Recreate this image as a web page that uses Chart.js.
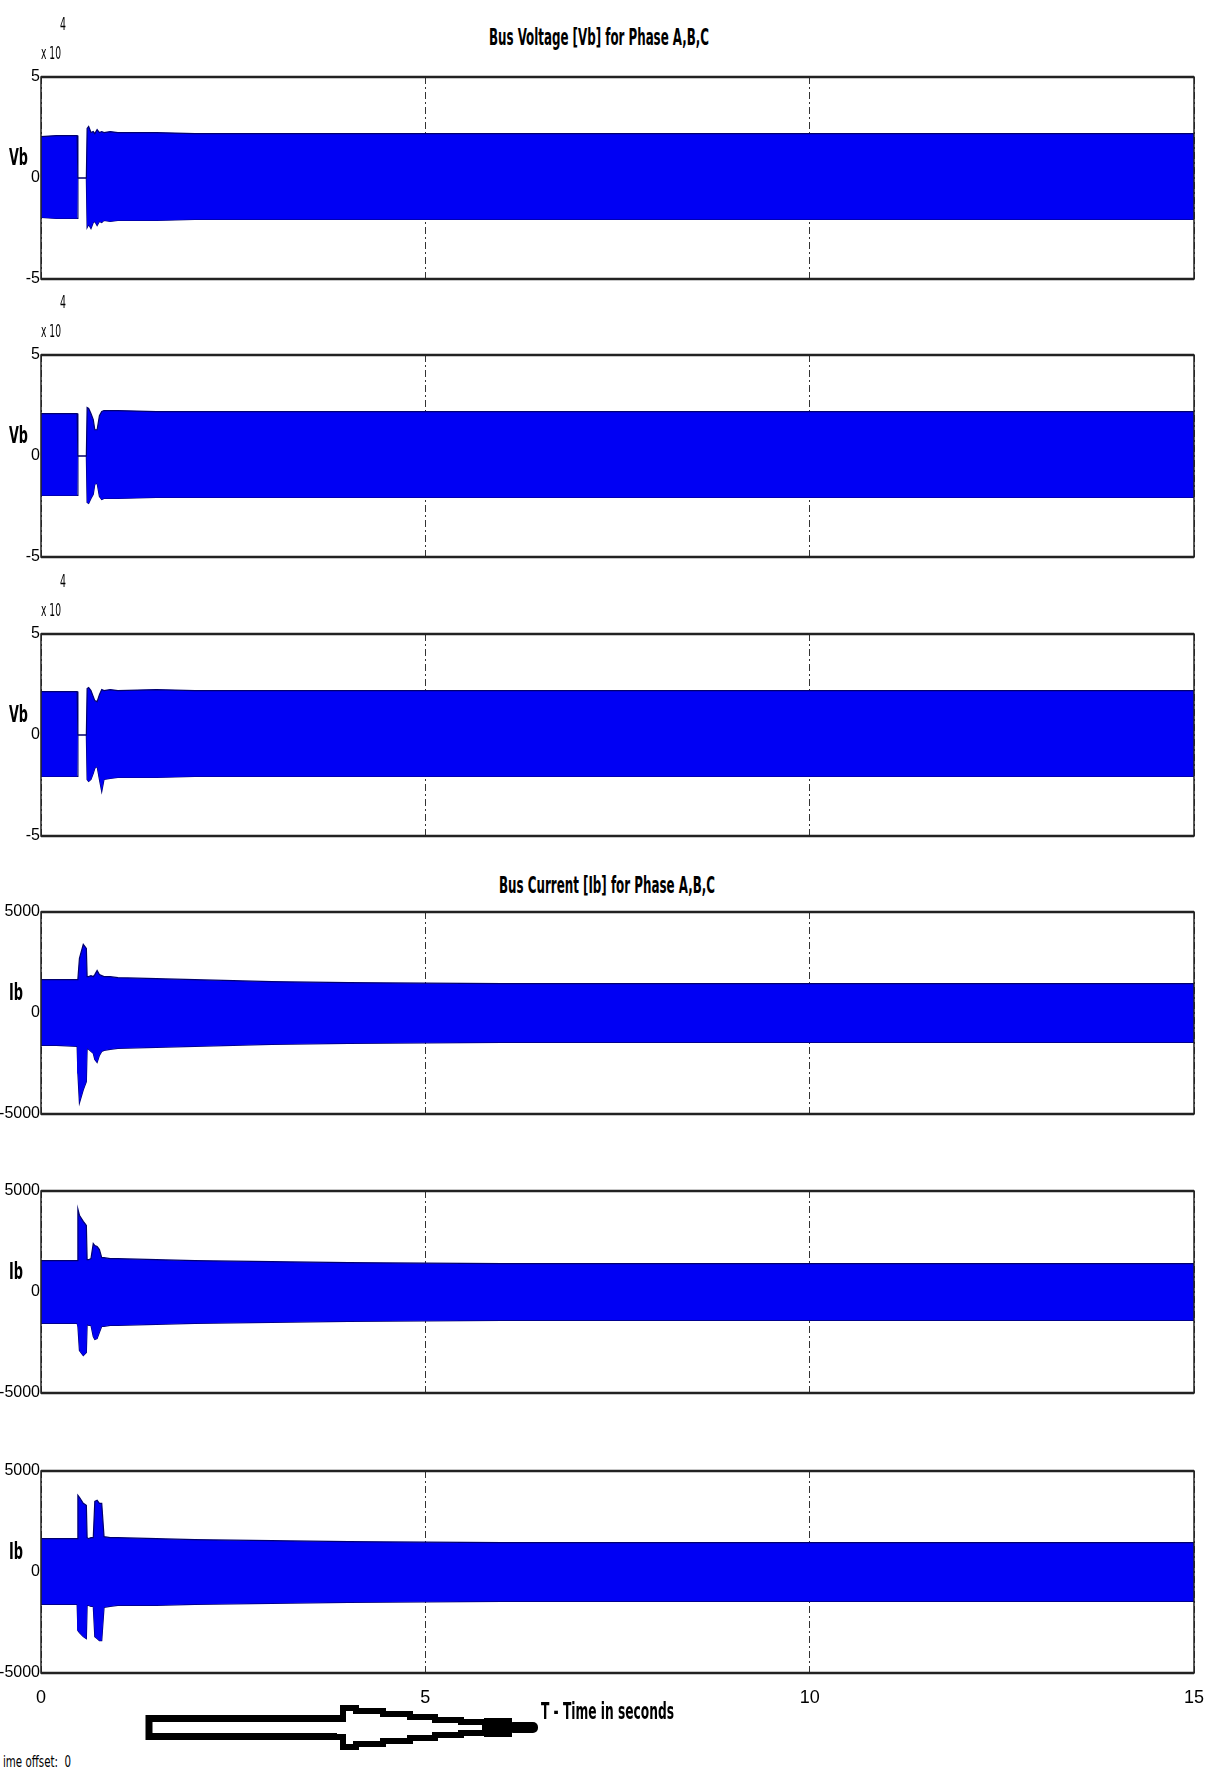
<!DOCTYPE html>
<html>
<head>
<meta charset="utf-8">
<title>Bus Voltage and Bus Current, Phase A,B,C</title>
<script src="https://cdn.jsdelivr.net/npm/chart.js@4.4.1/dist/chart.umd.min.js"></script>
<style>
  html, body { margin: 0; padding: 0; background: #fff; }
  body {
    width: 1206px; height: 1774px; position: relative; overflow: hidden;
    font-family: "Liberation Sans Narrow", "DejaVu Sans Condensed", sans-serif; color: #000;
  }
  canvas { position: absolute; left: 0; }
  .txt { position: absolute; white-space: pre; line-height: 1; transform-origin: left center; }
  svg { position: absolute; left: 0; top: 0; }
</style>
</head>
<body>
<svg width="1206" height="1774">
  <rect x="149" y="1718.5" width="196" height="18" fill="#fff" stroke="#000" stroke-width="7"/>
  <polygon fill="#fff" stroke="#000" stroke-width="6" stroke-linejoin="miter"
    points="343,1708 356,1708 356,1711 383,1711 383,1714 410,1714 410,1717 435,1717 435,1720 461,1720 461,1722 485,1722 485,1733 461,1733 461,1735 435,1735 435,1738 410,1738 410,1741 383,1741 383,1744 356,1744 356,1747 343,1747"/>
  <rect x="337" y="1722" width="14" height="12" fill="#fff"/>
  <rect x="484" y="1718" width="28" height="19" fill="#000"/>
  <rect x="508" y="1722" width="30" height="11" rx="5" fill="#000"/>
</svg>
<script>
// time (s), shared by all six traces
const time = [0, 0.2, 0.47, 0.48, 0.5, 0.55, 0.59, 0.6, 0.62, 0.65, 0.68, 0.7, 0.73, 0.76, 0.79, 0.82, 0.9, 1.0, 1.5, 2, 3, 4, 6, 8, 10, 12, 15];

// envelopes (top / bottom edge) of the blue band, bus voltage Vb in volts
const vaUpper = [20500, 21000, 21000, 0, 0, 0, 0, 24500, 25500, 22500, 23000, 22000, 24000, 22500, 23000, 22500, 23000, 22500, 22500, 22000, 22000, 22000, 22000, 22000, 22000, 22000, 22000];
const vaLower = [-19500, -20000, -20000, 0, 0, 0, 0, -24500, -23000, -25000, -22000, -21500, -23500, -21500, -22000, -21000, -21500, -21000, -21000, -20500, -20500, -20500, -20500, -20500, -20500, -20500, -20500];
const vbUpper = [21000, 21000, 21000, 0, 0, 0, 0, 24000, 23500, 21000, 18000, 13000, 13000, 20000, 22000, 22500, 22500, 22500, 22000, 22000, 22000, 22000, 22000, 22000, 22000, 22000, 22000];
const vbLower = [-19500, -19500, -19500, 0, 0, 0, 0, -23000, -23500, -21000, -19000, -14000, -13500, -20000, -21500, -21000, -21000, -21000, -20500, -20500, -20500, -20500, -20500, -20500, -20500, -20500, -20500];
const vcUpper = [21500, 21500, 21500, 0, 0, 0, 0, 23000, 23500, 22000, 19000, 17000, 16500, 20000, 22500, 22000, 22500, 22000, 22500, 22000, 22000, 22000, 22000, 22000, 22000, 22000, 22000];
const vcLower = [-20500, -20500, -20500, 0, 0, 0, 0, -22000, -23000, -22000, -19000, -16500, -15500, -22000, -28000, -22000, -21500, -21000, -21000, -20500, -20500, -20500, -20500, -20500, -20500, -20500, -20500];

// envelopes of the bus current Ib in amperes
const iaUpper = [1650, 1650, 1650, 1700, 2700, 3400, 3200, 1800, 1800, 1850, 1800, 1900, 2100, 1900, 1850, 1800, 1800, 1750, 1700, 1650, 1550, 1500, 1450, 1450, 1450, 1450, 1450];
const iaLower = [-1600, -1600, -1650, -3000, -4450, -3800, -3400, -1750, -1800, -1900, -2000, -2300, -2450, -2100, -1900, -1850, -1800, -1750, -1700, -1650, -1550, -1500, -1450, -1450, -1450, -1450, -1450];
const ibUpper = [1550, 1550, 1550, 4100, 3800, 3500, 3300, 1600, 1600, 1650, 2400, 2300, 2250, 2100, 1700, 1700, 1650, 1650, 1600, 1550, 1500, 1450, 1400, 1400, 1400, 1400, 1400];
const ibLower = [-1550, -1550, -1550, -1700, -2900, -3150, -3000, -1600, -1650, -1650, -2200, -2350, -2300, -2000, -1700, -1700, -1650, -1650, -1600, -1550, -1500, -1450, -1400, -1400, -1400, -1400, -1400];
const icUpper = [1650, 1650, 1650, 3800, 3700, 3400, 3300, 1700, 1650, 1700, 1700, 3500, 3550, 3400, 3400, 1750, 1700, 1700, 1650, 1600, 1550, 1500, 1450, 1450, 1450, 1450, 1450];
const icLower = [-1600, -1600, -1600, -2900, -3000, -3200, -3300, -1650, -1650, -1700, -1700, -3200, -3300, -3400, -3400, -1750, -1700, -1650, -1650, -1600, -1550, -1500, -1450, -1450, -1450, -1450, -1450];

// axis ticks
const timeTicks = [0, 5, 10, 15];
const voltLimit = 50000;   // shown as 5 x10^4
const currLimit = 5000;

const FONT = '"Liberation Sans", "DejaVu Sans Condensed", sans-serif';
const PANEL_H = 202;
const PAD = 12;

const panels = [
  { top: 77,   upper: vaUpper, lower: vaLower, label: 'Vb', volt: true },
  { top: 355,  upper: vbUpper, lower: vbLower, label: 'Vb', volt: true },
  { top: 634,  upper: vcUpper, lower: vcLower, label: 'Vb', volt: true },
  { top: 912,  upper: iaUpper, lower: iaLower, label: 'Ib', volt: false },
  { top: 1191, upper: ibUpper, lower: ibLower, label: 'Ib', volt: false },
  { top: 1471, upper: icUpper, lower: icLower, label: 'Ib', volt: false }
];

// box around each plot, top and bottom a bit heavier like the scope
const frame = {
  id: 'frame',
  afterDatasetsDraw(chart) {
    const { ctx, chartArea: a } = chart;
    ctx.save();
    ctx.strokeStyle = '#222';
    ctx.lineWidth = 1.5;
    ctx.strokeRect(a.left, a.top, a.right - a.left, a.bottom - a.top);
    ctx.lineWidth = 2.5;
    ctx.beginPath();
    ctx.moveTo(a.left, a.top); ctx.lineTo(a.right, a.top);
    ctx.moveTo(a.left, a.bottom); ctx.lineTo(a.right, a.bottom);
    ctx.stroke();
    ctx.restore();
  }
};

function addText(txt, x, cy, size, opts = {}) {
  const el = document.createElement('div');
  el.className = 'txt';
  el.textContent = txt;
  el.style.fontSize = size + 'px';
  if (opts.bold) el.style.fontWeight = 'bold';
  el.style.left = x + 'px';
  el.style.top = (cy - size / 2) + 'px';
  document.body.appendChild(el);
  if (opts.width) {
    const w = el.getBoundingClientRect().width;
    el.style.transform = 'scaleX(' + (opts.width / w) + ')';
  }
  return el;
}

panels.forEach((p, i) => {
  const last = i === panels.length - 1;
  const h = PAD + PANEL_H + (last ? 48 : PAD);
  const canvas = document.createElement('canvas');
  canvas.width = 1206;
  canvas.height = h;
  canvas.style.top = (p.top - PAD) + 'px';
  canvas.style.width = '1206px';
  canvas.style.height = h + 'px';
  document.body.appendChild(canvas);

  const lim = p.volt ? voltLimit : currLimit;
  const band = {
    borderColor: '#00006e',
    borderWidth: 1.2,
    backgroundColor: '#0000f4',
    pointRadius: 0,
    tension: 0
  };

  new Chart(canvas, {
    type: 'line',
    data: {
      datasets: [
        Object.assign({ data: time.map((t, k) => ({ x: t, y: p.upper[k] })), fill: '+1' }, band),
        Object.assign({ data: time.map((t, k) => ({ x: t, y: p.lower[k] })), fill: false }, band)
      ]
    },
    options: {
      responsive: false,
      animation: false,
      devicePixelRatio: 1,
      layout: { padding: { top: PAD, right: 12, bottom: last ? 0 : PAD, left: 0 } },
      plugins: { legend: { display: false }, tooltip: { enabled: false } },
      scales: {
        x: {
          type: 'linear', min: timeTicks[0], max: timeTicks[timeTicks.length - 1],
          afterBuildTicks: a => { a.ticks = timeTicks.map(v => ({ value: v })); },
          ticks: { display: last, padding: 14, color: '#000', maxRotation: 0, font: { family: FONT, size: 18 } },
          grid: { color: '#333', lineWidth: 1, drawTicks: false },
          border: { display: false, dash: [7, 3, 2, 3] },
          afterFit: a => { a.height = last ? 48 : 0; a.paddingLeft = 0; a.paddingRight = 0; }
        },
        y: {
          min: -lim, max: lim,
          afterBuildTicks: a => { a.ticks = [-lim, 0, lim].map(v => ({ value: v })); },
          ticks: {
            padding: 1, color: '#000', font: { family: FONT, size: 16 },
            callback: v => String(p.volt ? v / 10000 : v)
          },
          grid: { display: false, drawTicks: false },
          border: { display: false },
          afterFit: a => { a.width = 41; a.paddingTop = 0; a.paddingBottom = 0; }
        }
      }
    },
    plugins: [frame]
  });

  addText(p.label, 9, p.top + 80, 23, { bold: true, width: p.volt ? 19 : 14 });
  if (p.volt) {
    addText('x 10', 41, p.top - 24, 18, { width: 20 });
    addText('4', 60, p.top - 53, 18, { width: 6 });
  }
});

addText('Bus Voltage [Vb] for Phase A,B,C', 489, 37, 23, { bold: true, width: 220 });
addText('Bus Current [Ib] for Phase A,B,C', 499, 885, 23, { bold: true, width: 216 });
addText('T - Time in seconds', 541, 1711, 23, { bold: true, width: 133 });
addText('ime offset:  0', 3, 1762, 16, { width: 68 });
</script>
</body>
</html>
